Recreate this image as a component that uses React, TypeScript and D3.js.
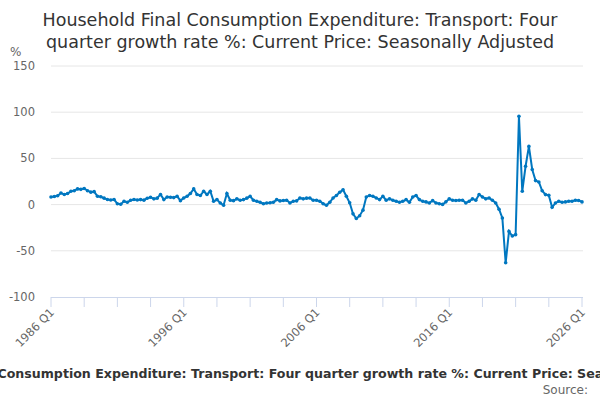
import * as d3 from 'd3';

// Quarterly series, 1986 Q1 onwards
const startYear = 1986;
const values: number[] = [
    8.3, 8.7, 9.5, 12.5, 11, 12, 14.5, 15, 17, 16.5,
    17.5, 15, 13.5, 14, 9, 8.5, 7, 5.5, 5, 5.5,
    1, 0.4, 3.6, 2.5, 4.7, 5.5, 5, 5.4, 4.8, 6.9,
    8, 6.2, 7, 11, 5.4, 8.3, 8, 7.6, 9, 4.3,
    7.2, 9, 12, 17, 10.9, 9.8, 14.5, 10.9, 14.5, 3.6,
    5.4, 1.8, -0.7, 12, 4.7, 4.3, 6.2, 4.7, 5.4, 7,
    9, 4.7, 3.6, 2.5, 1, 1.8, 2, 2.5, 5.4, 4,
    4.5, 4.7, 1.8, 3.6, 4, 7.2, 6.2, 7, 7.2, 4.7,
    4.7, 3.6, 1, -0.7, 2.5, 7.2, 9.8, 13.4, 16, 9,
    2, -10, -15, -12, -6, 8.3, 9.8, 9, 7.2, 5.4,
    9, 4.7, 6.2, 4.7, 3.6, 2.5, 3.6, 5.4, 2.5, 8.3,
    9.8, 5.4, 3.6, 2.9, 1.8, 4.3, 1.8, 1, 0.2, 3,
    6.2, 4.7, 4.5, 4.7, 4.7, 1.8, 3.6, 6.2, 4.7, 10.9,
    8.3, 6.2, 7.2, 4.7, 1.8, -5, -14.5, -63, -29, -34,
    -32.5, 95.6, 14.4, 41.5, 63, 38, 26, 24.5, 15, 10.8,
    10, -2.9, 1.8, 3.6, 2.5, 2.9, 3.6, 3.6, 4.7, 4.5,
    2.9,
];
const yTicks = [-100, -50, 0, 50, 100, 150];
const xLabelEvery = 40; // quarters
const xTickEvery = 10;
const totalQuarters = 160;

const titleLines = [
    'Household Final Consumption Expenditure: Transport: Four',
    'quarter growth rate %: Current Price: Seasonally Adjusted',
];
const caption = 'Household Final Consumption Expenditure: Transport: Four quarter growth rate %: Current Price: Seasonally Adjusted';

const qLabel = (i: number) => `${startYear + Math.floor(i / 4)} Q${(i % 4) + 1}`;

export default function App() {
    const width = 600;
    const height = 400;
    const left = 51, right = 582, top = 66, bottom = 297;

    const x = d3.scaleLinear().domain([0, totalQuarters]).range([left, right]);
    const y = d3.scaleLinear().domain([-100, 150]).range([bottom, top]);

    const line = d3.line<number>()
        .x((_, i) => x(i))
        .y(d => y(d));

    const ticks = d3.range(0, totalQuarters + 1, xTickEvery);
    const labels = d3.range(0, totalQuarters + 1, xLabelEvery);
    const font = '"DejaVu Sans", sans-serif';

    return (
        <svg width={width} height={height} style={{ position: 'absolute', left: 0, top: 0, fontFamily: font }}>
            <rect width={width} height={height} fill="#fff" />
            {titleLines.map((t, i) => (
                <text key={t} x={300} y={26 + i * 21.5} textAnchor="middle" fontSize={17.5} fill="#333">{t}</text>
            ))}
            <text x={10} y={56} fontSize={12} fill="#666">%</text>

            {/* gridlines + y labels */}
            {yTicks.map(t => (
                <g key={t}>
                    {t !== -100 && <line x1={left} x2={right + 1} y1={y(t)} y2={y(t)} stroke="#e6e6e6" />}
                    <text x={35} y={y(t) + 4} textAnchor="end" fontSize={11.5} fill="#666">{t}</text>
                </g>
            ))}

            {/* x axis */}
            <line x1={left} x2={right + 1} y1={bottom + 0.5} y2={bottom + 0.5} stroke="#ccd6eb" />
            {ticks.map(t => (
                <line key={t} x1={x(t)} x2={x(t)} y1={bottom} y2={bottom + 10} stroke="#ccd6eb" />
            ))}
            {labels.map(t => (
                <text key={t} transform={`translate(${x(t) + 4},${bottom + 16}) rotate(-45)`}
                    textAnchor="end" fontSize={11.5} fill="#666">{qLabel(t)}</text>
            ))}

            <path d={line(values) ?? ''} fill="none" stroke="#0077c0" strokeWidth={2} />
            {values.map((v, i) => (
                <circle key={i} cx={x(i)} cy={y(v)} r={1.8} fill="#0077c0" />
            ))}

            <text x={300} y={378} textAnchor="middle" fontSize={12.6} fontWeight="bold" fill="#333">{caption}</text>
            <text x={588} y={394} textAnchor="end" fontSize={12} fill="#666">Source:</text>
        </svg>
    );
}
